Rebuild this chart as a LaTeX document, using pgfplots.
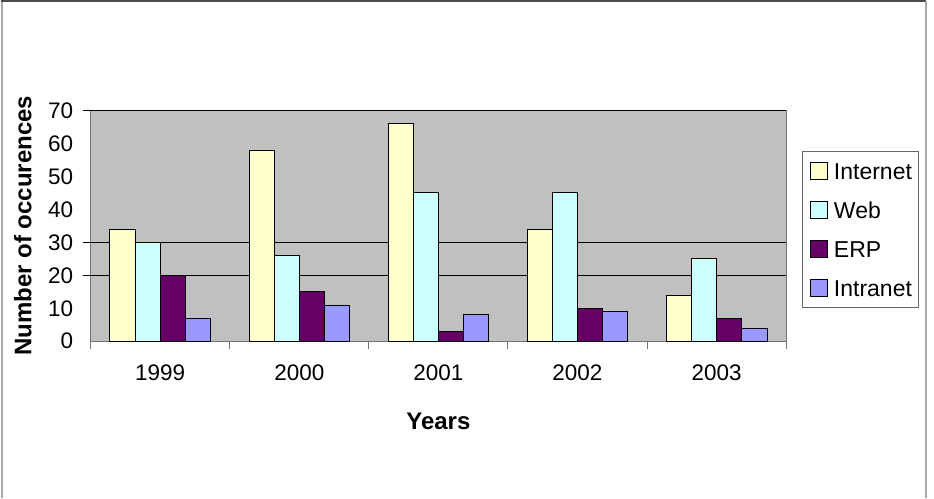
\documentclass[border=0pt]{standalone}
\usepackage{fontspec}
\setmainfont{Liberation Sans}
\usepackage{pgfplots}
\pgfplotsset{compat=1.18}

\definecolor{plotgray}{HTML}{C0C0C0}
\definecolor{cInternet}{HTML}{FFFFCC}
\definecolor{cWeb}{HTML}{CCFFFF}
\definecolor{cERP}{HTML}{660066}
\definecolor{cIntranet}{HTML}{9999FF}
\definecolor{framegray}{HTML}{A8A8A8}

\begin{document}
\begin{tikzpicture}
  % page extent and outer frame
  \path (0pt,0pt) rectangle (934pt,-498pt);
  \draw[framegray, line width=2pt] (1.5pt,-498pt) -- (1.5pt,-1pt);
  \draw[black!70, line width=1.5pt] (0pt,-1pt) -- (926pt,-1pt);
  \draw[framegray, line width=2pt] (926pt,-1pt) -- (926pt,-498pt);

  \begin{axis}[
    at={(90pt,-341.5pt)}, anchor=south west,
    scale only axis, width=696pt, height=231pt,
    xmin=0.5, xmax=5.5, ymin=0, ymax=70,
    axis background/.style={fill=plotgray},
    axis line style={draw=black!55, line width=1pt},
    ybar=0pt, bar width=25.2pt,
    /pgf/number format/assume math mode=true,
    xtick pos=bottom, ytick pos=left,
    ytick={0,10,...,70},
    xtick={1,2,3,4,5},
    xticklabels={1999,2000,2001,2002,2003},
    major tick length=0pt,
    ticklabel style={font=\fontsize{22.5}{27}\selectfont},
    yticklabel style={xshift=-14pt},
    xticklabel style={yshift=-20pt},
    extra x ticks={0.5,1.5,2.5,3.5,4.5,5.5},
    extra x tick labels={},
    extra x tick style={major tick length=8pt, tick align=outside,
      xtick pos=bottom,
      tick style={draw=black!55, line width=1pt}},
    extra y ticks={20,30,70},
    extra y tick labels={},
    extra y tick style={grid=major, major tick length=8pt, tick align=outside,
      ytick pos=left,
      major grid style={draw=black, line width=1pt},
      tick style={draw=black, line width=1pt}},
    xlabel={Years},
    xlabel style={font=\bfseries\fontsize{24}{28}\selectfont,
      at={(axis description cs:0.5,-0.3485)}, anchor=center},
    ylabel={Number of occurences},
    ylabel style={font=\bfseries\fontsize{24}{28}\selectfont,
      at={(axis description cs:-0.0977,0.5)}, anchor=center},
    legend image code/.code={
      \draw[#1, draw=black, line width=0.8pt] (0pt,-8.25pt) rectangle (17pt,8.25pt);
      \path[draw=none, fill=none] (0pt,0pt) rectangle (24pt,0.1pt);},
    legend cell align=left,
    legend style={at={(axis description cs:1.023,0.8247)}, anchor=north west,
      draw=black!60, line width=1pt, fill=white,
      font=\fontsize{23}{27}\selectfont,
      inner xsep=7pt, inner ysep=11pt, row sep=21.7pt, column sep=0pt,
      nodes={inner sep=0pt, text height=16.5pt, text depth=0pt}},
    every axis plot/.append style={draw=black, line width=0.8pt},
  ]
    \addplot[fill=cInternet] coordinates {(1,34) (2,58) (3,66) (4,34) (5,14)};
    \addplot[fill=cWeb] coordinates {(1,30) (2,26) (3,45) (4,45) (5,25)};
    \addplot[fill=cERP] coordinates {(1,20) (2,15) (3,3) (4,10) (5,7)};
    \addplot[fill=cIntranet] coordinates {(1,7) (2,11) (3,8) (4,9) (5,4)};
    \legend{Internet,Web,ERP,Intranet}
  \end{axis}
\end{tikzpicture}
\end{document}
